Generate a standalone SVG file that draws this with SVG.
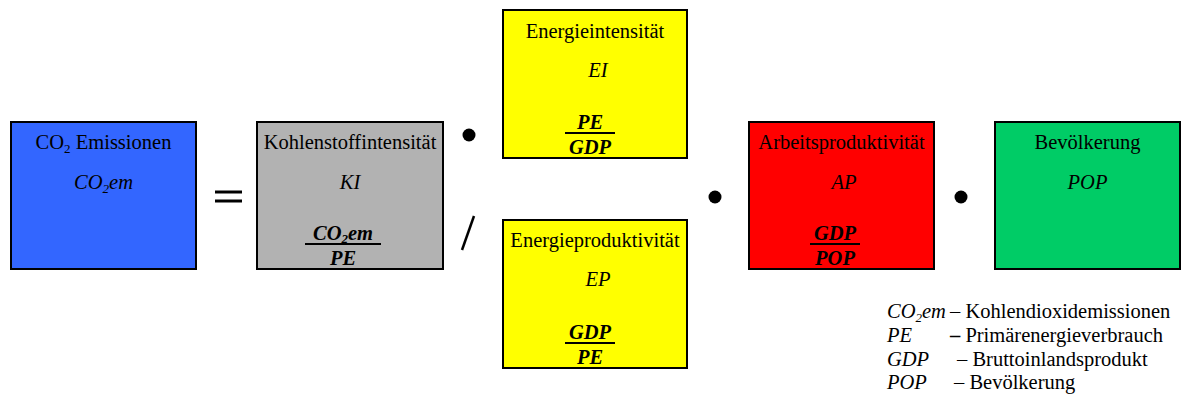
<svg xmlns="http://www.w3.org/2000/svg" width="1182" height="399" viewBox="0 0 1182 399">
<style>
text{font-family:"Liberation Serif","Times New Roman",serif;font-size:20.5px;fill:#000;text-anchor:middle}
.it{font-style:italic}
.fr{font-style:italic;font-weight:bold}
.sub{font-size:13px}
.box{stroke:#000;stroke-width:2}
.fl{stroke:#000;stroke-width:2}
.leg text{text-anchor:start}
</style>
<rect width="1182" height="399" fill="#fff"/>
<g id="node-co2">
<rect class="box" x="11" y="122" width="185" height="147" fill="#3366FF"/>
<text x="103.5" y="149">CO<tspan class="sub" dy="4">2</tspan><tspan dy="-4"> Emissionen</tspan></text>
<text class="it" x="103.5" y="189">CO<tspan class="sub" dy="4">2</tspan><tspan dy="-4">em</tspan></text>
</g>
<g id="node-ki">
<rect class="box" x="257" y="122" width="186" height="147" fill="#B2B2B2"/>
<text x="350" y="149">Kohlenstoffintensität</text>
<text class="it" x="350" y="189">KI</text>
<text class="fr" x="343" y="240">CO<tspan class="sub" dy="3">2</tspan><tspan dy="-3">em</tspan></text>
<line class="fl" x1="305" y1="244" x2="381" y2="244"/>
<text class="fr" x="343" y="265">PE</text>
</g>
<g id="node-ei">
<rect class="box" x="503" y="10" width="184" height="148" fill="#FFFF00"/>
<text x="595" y="38">Energieintensität</text>
<text class="it" x="598" y="77">EI</text>
<text class="fr" x="590" y="129">PE</text>
<line class="fl" x1="565" y1="133" x2="615" y2="133"/>
<text class="fr" x="590" y="154">GDP</text>
</g>
<g id="node-ep">
<rect class="box" x="503" y="220" width="184" height="148" fill="#FFFF00"/>
<text x="595" y="247">Energieproduktivität</text>
<text class="it" x="598" y="286">EP</text>
<text class="fr" x="590" y="339">GDP</text>
<line class="fl" x1="565" y1="343" x2="615" y2="343"/>
<text class="fr" x="590" y="364">PE</text>
</g>
<g id="node-ap">
<rect class="box" x="749" y="122" width="185" height="147" fill="#FF0000"/>
<text x="841.5" y="149">Arbeitsproduktivität</text>
<text class="it" x="844" y="189">AP</text>
<text class="fr" x="835" y="240">GDP</text>
<line class="fl" x1="810" y1="244" x2="860" y2="244"/>
<text class="fr" x="835" y="265">POP</text>
</g>
<g id="node-pop">
<rect class="box" x="995" y="122" width="185" height="147" fill="#00CC66"/>
<text x="1087.5" y="149">Bevölkerung</text>
<text class="it" x="1087.5" y="189">POP</text>
</g>
<g id="connectors">
<line x1="215" y1="192" x2="242" y2="192" stroke="#000" stroke-width="3"/>
<line x1="215" y1="201" x2="242" y2="201" stroke="#000" stroke-width="3"/>
<circle cx="469" cy="135" r="6.5" fill="#000"/>
<line x1="474" y1="216" x2="462" y2="250" stroke="#000" stroke-width="2.5"/>
<circle cx="715" cy="197" r="6.5" fill="#000"/>
<circle cx="961" cy="197" r="6.5" fill="#000"/>
</g>
<g id="legend" class="leg">
<text class="it" x="887" y="318">CO<tspan class="sub" dy="4">2</tspan><tspan dy="-4">em</tspan></text>
<text x="950" y="318">– Kohlendioxidemissionen</text>
<text class="it" x="887" y="342">PE</text>
<text x="950" y="342"><tspan font-weight="bold">–</tspan> Primärenergieverbrauch</text>
<text class="it" x="887" y="366">GDP</text>
<text x="957" y="366">– Bruttoinlandsprodukt</text>
<text class="it" x="887" y="389">POP</text>
<text x="954" y="389">– Bevölkerung</text>
</g>
</svg>
